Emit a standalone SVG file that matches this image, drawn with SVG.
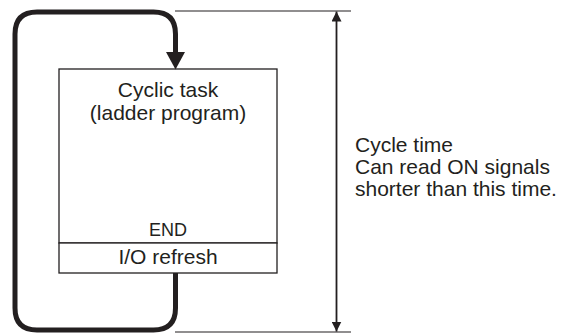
<svg xmlns="http://www.w3.org/2000/svg" width="561" height="336" viewBox="0 0 561 336">
<defs>
<style>
.t{font-family:"Liberation Sans",Arial,Helvetica,sans-serif;fill:#231f20}
.box{fill:#fff;stroke:#231f20;stroke-width:1.3}
.loop{fill:none;stroke:#231f20;stroke-width:5;stroke-linejoin:round}
.thin{fill:none;stroke:#231f20;stroke-width:1.2}
.dim{fill:none;stroke:#231f20;stroke-width:1.8}
</style>
<marker id="ah" viewBox="0 0 10 10" refX="10" refY="5" markerWidth="10" markerHeight="10" markerUnits="userSpaceOnUse" orient="auto-start-reverse">
<path d="M0,0 L10,5 L0,10 Z" fill="#231f20"/>
</marker>
</defs>
<rect width="561" height="336" fill="#fff"/>
<g id="cyclic-task">
<rect class="box" x="59" y="69" width="218" height="174"/>
<text class="t" x="168" y="97" font-size="21" text-anchor="middle">Cyclic task</text>
<text class="t" x="168" y="120" font-size="21" text-anchor="middle">(ladder program)</text>
<text class="t" x="168" y="236" font-size="18" text-anchor="middle">END</text>
</g>
<g id="io-refresh">
<rect class="box" x="59" y="243" width="218" height="30"/>
<text class="t" x="168" y="264" font-size="21" text-anchor="middle">I/O refresh</text>
</g>
<g id="cycle-time-label">
<text class="t" x="355" y="152" font-size="21">Cycle time</text>
<text class="t" x="355" y="174" font-size="21">Can read ON signals</text>
<text class="t" x="355" y="196" font-size="21">shorter than this time.</text>
</g>
<g id="connectors">
<path class="loop" d="M175.5,273 V308 Q175.5,330 153.5,330 H37 Q15,330 15,308 V34 Q15,12 37,12 H153.5 Q175.5,12 175.5,34 V53"/>
<path d="M166,52 L185,52 L175.5,69.5 Z" fill="#231f20"/>
<line class="thin" x1="175" y1="11" x2="351" y2="11"/>
<line class="thin" x1="175" y1="332" x2="351" y2="332"/>
<line class="dim" x1="336.5" y1="11.5" x2="336.5" y2="331.5" marker-start="url(#ah)" marker-end="url(#ah)"/>
</g>
</svg>
